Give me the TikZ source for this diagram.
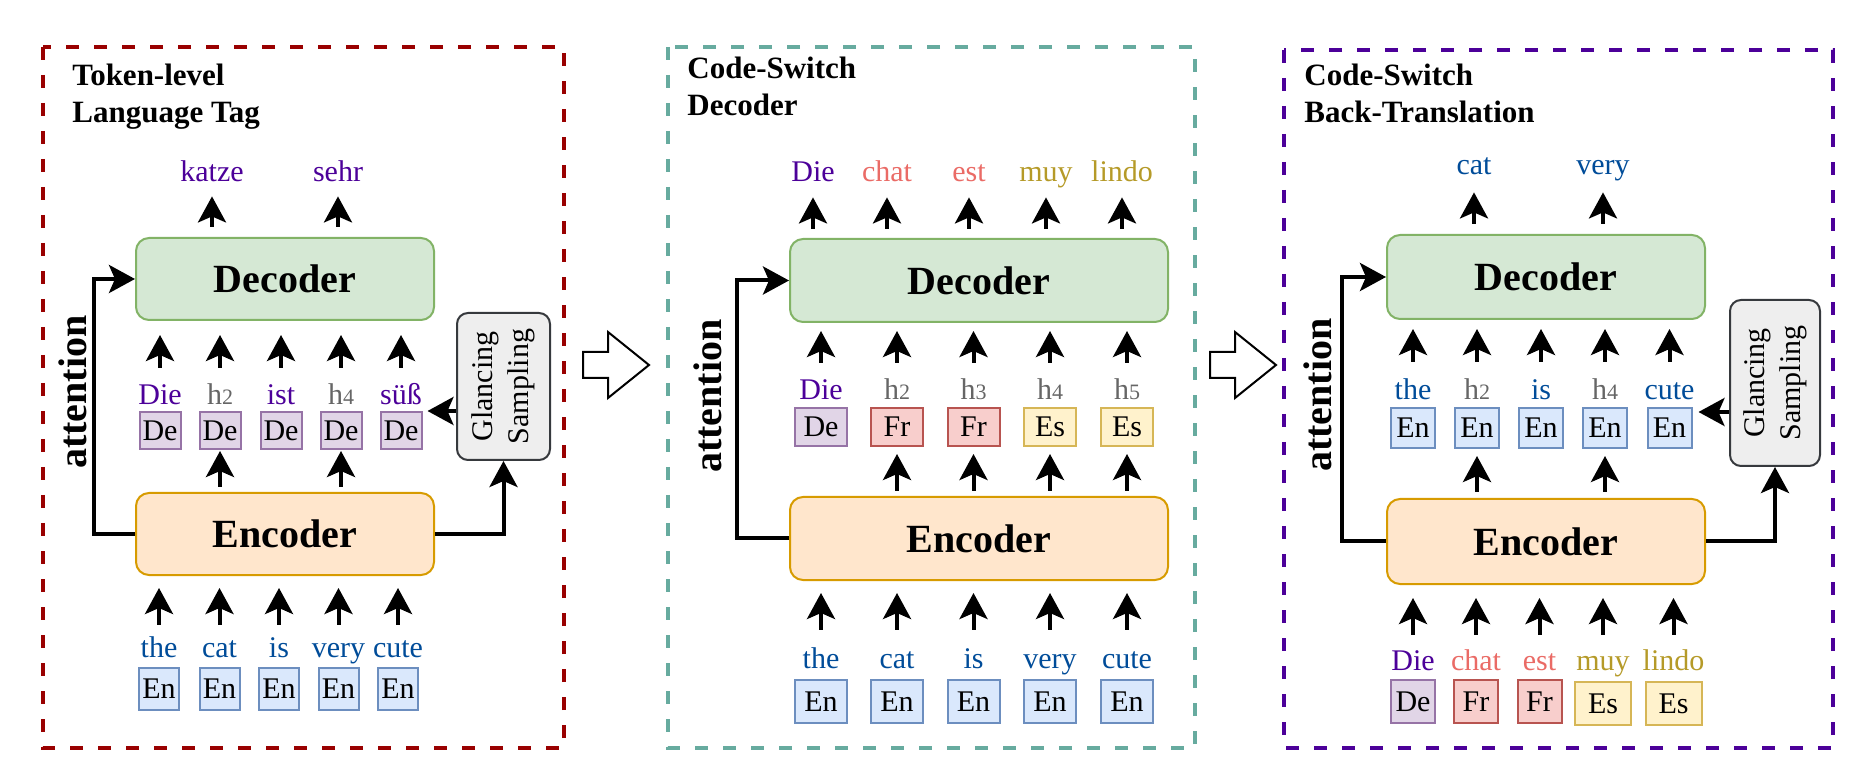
\documentclass[tikz,border=0pt]{standalone}
\usepackage{fontspec}
\setmainfont{Liberation Serif}
\usetikzlibrary{arrows.meta}

\definecolor{redframe}{HTML}{990000}
\definecolor{tealframe}{HTML}{67AB9F}
\definecolor{purpleframe}{HTML}{4C0099}
\definecolor{deword}{HTML}{4C0099}
\definecolor{enword}{HTML}{004C99}
\definecolor{frword}{HTML}{EA6B66}
\definecolor{esword}{HTML}{B59A28}
\definecolor{hword}{HTML}{666666}
\definecolor{defill}{HTML}{E1D5E7}
\definecolor{deline}{HTML}{9673A6}
\definecolor{enfill}{HTML}{DAE8FC}
\definecolor{enline}{HTML}{6C8EBF}
\definecolor{frfill}{HTML}{F8CECC}
\definecolor{frline}{HTML}{B85450}
\definecolor{esfill}{HTML}{FFF2CC}
\definecolor{esline}{HTML}{D6B656}
\definecolor{decfill}{HTML}{D5E8D4}
\definecolor{decline}{HTML}{82B366}
\definecolor{encfill}{HTML}{FFE6CC}
\definecolor{encline}{HTML}{D79B00}
\definecolor{glfill}{HTML}{EEEEEE}
\definecolor{glline}{HTML}{36393D}

\newcommand{\hsub}[1]{h{\fontsize{11}{13}\selectfont #1}}
\newcommand{\wordtag}[8]{%
  \node[word, text=#5] (w#1) at (#2,#3) {#6};
  \node[tagbox, tag#7, #8] (t#1) at (#2,#4) {#7};}

\begin{document}
\begin{tikzpicture}[x=0.5pt, y=-0.5pt,
    word/.style={anchor=base, inner sep=0pt, text height=10.5pt, text depth=3pt, font=\fontsize{15}{18}\selectfont},
    tagbox/.style={line width=1pt, inner sep=0pt, font=\fontsize{15}{18}\selectfont},
    tagDe/.style={fill=defill, draw=deline},
    tagEn/.style={fill=enfill, draw=enline},
    tagFr/.style={fill=frfill, draw=frline},
    tagEs/.style={fill=esfill, draw=esline},
    mid1/.style={minimum width=20.5pt, minimum height=18.5pt},
    low1/.style={minimum width=20pt, minimum height=21pt},
    mid2/.style={minimum width=26pt, minimum height=19pt},
    low2/.style={minimum width=26pt, minimum height=21.5pt},
    mid3/.style={minimum width=22pt, minimum height=20pt},
    low3/.style={minimum width=22pt, minimum height=21.5pt},
    low3es/.style={minimum width=28pt, minimum height=21.5pt},
    block/.style={rounded corners=6.5pt, line width=1pt, inner sep=0pt, font=\bfseries\fontsize{20}{24}\selectfont},
    dec/.style={block, fill=decfill, draw=decline},
    enc/.style={block, fill=encfill, draw=encline},
    glance/.style={rounded corners=5.5pt, line width=1pt, fill=glfill, draw=glline, inner sep=0pt, font=\fontsize{15}{18}\selectfont},
    attn/.style={rotate=90, anchor=base, inner sep=0pt, font=\bfseries\fontsize{20}{24}\selectfont},
    title/.style={anchor=north west, align=left, inner sep=0pt, font=\bfseries\fontsize{15.5}{18.5}\selectfont},
    frame/.style={line width=2pt, dash pattern=on 6.5pt off 7.5pt},
    arr/.style={line width=2pt, -{Stealth[length=13pt, width=14pt, inset=3pt]}},
    bigarrow/.style={line width=1pt, fill=white}]
    \useasboundingbox (0,0) rectangle (1864,764);

    % token-level language tag
    \draw[frame, redframe] (43,47) rectangle (564,748);
    \node[title] (title1) at (72,64) {Token-level\\Language Tag};
    \node[dec, minimum width=149pt, minimum height=41pt] (dec1) at (285,279) {Decoder};
    \node[enc, minimum width=149pt, minimum height=41pt] (enc1) at (285,534) {Encoder};
    \node[word, text=deword] (o1a) at (212,182) {katze};
    \node[word, text=deword] (o1b) at (338,182) {sehr};
    \wordtag{a1}{160}{405}{430.5}{deword}{Die}{De}{mid1}
    \wordtag{a2}{220}{405}{430.5}{hword}{\hsub{2}}{De}{mid1}
    \wordtag{a3}{281}{405}{430.5}{deword}{ist}{De}{mid1}
    \wordtag{a4}{341}{405}{430.5}{hword}{\hsub{4}}{De}{mid1}
    \wordtag{a5}{401}{405}{430.5}{deword}{süß}{De}{mid1}
    \wordtag{b1}{159}{657}{689}{enword}{the}{En}{low1}
    \wordtag{b2}{219.5}{657}{689}{enword}{cat}{En}{low1}
    \wordtag{b3}{279}{657}{689}{enword}{is}{En}{low1}
    \wordtag{b4}{338.5}{657}{689}{enword}{very}{En}{low1}
    \wordtag{b5}{398}{657}{689}{enword}{cute}{En}{low1}
    \draw[arr, shorten <=5pt, shorten >=4pt] (o1a |- dec1.north) -- (o1a.south);
    \draw[arr, shorten <=5pt, shorten >=4pt] (o1b |- dec1.north) -- (o1b.south);
    \draw[arr, shorten <=8pt, shorten >=7pt] (wa1.north) -- (wa1.north |- dec1.south);
    \draw[arr, shorten <=8pt, shorten >=7pt] (wa2.north) -- (wa2.north |- dec1.south);
    \draw[arr, shorten <=8pt, shorten >=7pt] (wa3.north) -- (wa3.north |- dec1.south);
    \draw[arr, shorten <=8pt, shorten >=7pt] (wa4.north) -- (wa4.north |- dec1.south);
    \draw[arr, shorten <=8pt, shorten >=7pt] (wa5.north) -- (wa5.north |- dec1.south);
    \draw[arr, shorten <=2.5pt, shorten >=0.5pt] (ta2.south |- enc1.north) -- (ta2.south);
    \draw[arr, shorten <=2.5pt, shorten >=0.5pt] (ta4.south |- enc1.north) -- (ta4.south);
    \draw[arr, shorten <=5.5pt, shorten >=6pt] (wb1.north) -- (wb1.north |- enc1.south);
    \draw[arr, shorten <=5.5pt, shorten >=6pt] (wb2.north) -- (wb2.north |- enc1.south);
    \draw[arr, shorten <=5.5pt, shorten >=6pt] (wb3.north) -- (wb3.north |- enc1.south);
    \draw[arr, shorten <=5.5pt, shorten >=6pt] (wb4.north) -- (wb4.north |- enc1.south);
    \draw[arr, shorten <=5.5pt, shorten >=6pt] (wb5.north) -- (wb5.north |- enc1.south);
    \draw[arr] (enc1.west) -- ++(-41,0) |- (dec1.west);
    \node[attn] (att1) at (86,392) {attention};
    \node[glance, minimum width=46.5pt, minimum height=73.5pt] (gl1) at (503.5,386.5)
        {\rotatebox{90}{\begin{tabular}{@{}c@{}}Glancing\\Sampling\end{tabular}}};
    \draw[arr] (enc1.east) -| (gl1.south);
    \draw[arr] (gl1.west |- ta5.north) -- ([xshift=2.5pt]ta5.north east);

    \draw[bigarrow] (583,352) -- (608,352) -- (608,332) -- (649,365) -- (608,398) -- (608,378) -- (583,378) -- cycle;

    % code-switch decoder
    \draw[frame, tealframe] (668,47) rectangle (1195,748);
    \node[title] (title2) at (687,57) {Code-Switch\\Decoder};
    \node[dec, minimum width=189pt, minimum height=41.5pt] (dec2) at (979,280.5) {Decoder};
    \node[enc, minimum width=189pt, minimum height=41.5pt] (enc2) at (979,538.5) {Encoder};
    \node[word, text=deword] (o2a) at (813,182) {Die};
    \node[word, text=frword] (o2b) at (887,182) {chat};
    \node[word, text=frword] (o2c) at (969,182) {est};
    \node[word, text=esword] (o2d) at (1046,182) {muy};
    \node[word, text=esword] (o2e) at (1122,182) {lindo};
    \wordtag{c1}{821}{400}{427}{deword}{Die}{De}{mid2}
    \wordtag{c2}{897}{400}{427}{hword}{\hsub{2}}{Fr}{mid2}
    \wordtag{c3}{973.5}{400}{427}{hword}{\hsub{3}}{Fr}{mid2}
    \wordtag{c4}{1050}{400}{427}{hword}{\hsub{4}}{Es}{mid2}
    \wordtag{c5}{1127}{400}{427}{hword}{\hsub{5}}{Es}{mid2}
    \wordtag{d1}{821}{668}{701.5}{enword}{the}{En}{low2}
    \wordtag{d2}{897}{668}{701.5}{enword}{cat}{En}{low2}
    \wordtag{d3}{973.5}{668}{701.5}{enword}{is}{En}{low2}
    \wordtag{d4}{1050}{668}{701.5}{enword}{very}{En}{low2}
    \wordtag{d5}{1127}{668}{701.5}{enword}{cute}{En}{low2}
    \draw[arr, shorten <=4.5pt, shorten >=4.5pt] (o2a |- dec2.north) -- (o2a.south);
    \draw[arr, shorten <=4.5pt, shorten >=4.5pt] (o2b |- dec2.north) -- (o2b.south);
    \draw[arr, shorten <=4.5pt, shorten >=4.5pt] (o2c |- dec2.north) -- (o2c.south);
    \draw[arr, shorten <=4.5pt, shorten >=4.5pt] (o2d |- dec2.north) -- (o2d.south);
    \draw[arr, shorten <=4.5pt, shorten >=4.5pt] (o2e |- dec2.north) -- (o2e.south);
    \draw[arr, shorten <=8pt, shorten >=4pt] (wc1.north) -- (wc1.north |- dec2.south);
    \draw[arr, shorten <=8pt, shorten >=4pt] (wc2.north) -- (wc2.north |- dec2.south);
    \draw[arr, shorten <=8pt, shorten >=4pt] (wc3.north) -- (wc3.north |- dec2.south);
    \draw[arr, shorten <=8pt, shorten >=4pt] (wc4.north) -- (wc4.north |- dec2.south);
    \draw[arr, shorten <=8pt, shorten >=4pt] (wc5.north) -- (wc5.north |- dec2.south);
    \draw[arr, shorten <=2.5pt, shorten >=3.5pt] (tc2.south |- enc2.north) -- (tc2.south);
    \draw[arr, shorten <=2.5pt, shorten >=3.5pt] (tc3.south |- enc2.north) -- (tc3.south);
    \draw[arr, shorten <=2.5pt, shorten >=3.5pt] (tc4.south |- enc2.north) -- (tc4.south);
    \draw[arr, shorten <=2.5pt, shorten >=3.5pt] (tc5.south |- enc2.north) -- (tc5.south);
    \draw[arr, shorten <=8.5pt, shorten >=6pt] (wd1.north) -- (wd1.north |- enc2.south);
    \draw[arr, shorten <=8.5pt, shorten >=6pt] (wd2.north) -- (wd2.north |- enc2.south);
    \draw[arr, shorten <=8.5pt, shorten >=6pt] (wd3.north) -- (wd3.north |- enc2.south);
    \draw[arr, shorten <=8.5pt, shorten >=6pt] (wd4.north) -- (wd4.north |- enc2.south);
    \draw[arr, shorten <=8.5pt, shorten >=6pt] (wd5.north) -- (wd5.north |- enc2.south);
    \draw[arr] (enc2.west) -- ++(-52,0) |- (dec2.west);
    \node[attn] (att2) at (721,396) {attention};

    \draw[bigarrow] (1210,352) -- (1235,352) -- (1235,332) -- (1276,365) -- (1235,398) -- (1235,378) -- (1210,378) -- cycle;

    % code-switch back-translation
    \draw[frame, purpleframe] (1284,50) rectangle (1833,748);
    \node[title] (title3) at (1304,64) {Code-Switch\\Back-Translation};
    \node[dec, minimum width=159pt, minimum height=42pt] (dec3) at (1546,277) {Decoder};
    \node[enc, minimum width=159pt, minimum height=42.5pt] (enc3) at (1546,541.5) {Encoder};
    \node[word, text=enword] (o3a) at (1474,175) {cat};
    \node[word, text=enword] (o3b) at (1603,175) {very};
    \wordtag{e1}{1413}{400}{428}{enword}{the}{En}{mid3}
    \wordtag{e2}{1477}{400}{428}{hword}{\hsub{2}}{En}{mid3}
    \wordtag{e3}{1541}{400}{428}{enword}{is}{En}{mid3}
    \wordtag{e4}{1605}{400}{428}{hword}{\hsub{4}}{En}{mid3}
    \wordtag{e5}{1669.5}{400}{428}{enword}{cute}{En}{mid3}
    \wordtag{f1}{1413}{670}{701.5}{deword}{Die}{De}{low3}
    \wordtag{f2}{1476}{670}{701.5}{frword}{chat}{Fr}{low3}
    \wordtag{f3}{1539.5}{670}{701.5}{frword}{est}{Fr}{low3}
    \wordtag{f4}{1603}{670}{703.5}{esword}{muy}{Es}{low3es}
    \wordtag{f5}{1673.5}{670}{703.5}{esword}{lindo}{Es}{low3es}
    \draw[arr, shorten <=5pt, shorten >=5.5pt] (o3a |- dec3.north) -- (o3a.south);
    \draw[arr, shorten <=5pt, shorten >=5.5pt] (o3b |- dec3.north) -- (o3b.south);
    \draw[arr, shorten <=8.5pt, shorten >=4.5pt] (we1.north) -- (we1.north |- dec3.south);
    \draw[arr, shorten <=8.5pt, shorten >=4.5pt] (we2.north) -- (we2.north |- dec3.south);
    \draw[arr, shorten <=8.5pt, shorten >=4.5pt] (we3.north) -- (we3.north |- dec3.south);
    \draw[arr, shorten <=8.5pt, shorten >=4.5pt] (we4.north) -- (we4.north |- dec3.south);
    \draw[arr, shorten <=8.5pt, shorten >=4.5pt] (we5.north) -- (we5.north |- dec3.south);
    \draw[arr, shorten <=3pt, shorten >=3.5pt] (te2.south |- enc3.north) -- (te2.south);
    \draw[arr, shorten <=3pt, shorten >=3.5pt] (te4.south |- enc3.north) -- (te4.south);
    \draw[arr, shorten <=7pt, shorten >=6.5pt] (wf1.north) -- (wf1.north |- enc3.south);
    \draw[arr, shorten <=7pt, shorten >=6.5pt] (wf2.north) -- (wf2.north |- enc3.south);
    \draw[arr, shorten <=7pt, shorten >=6.5pt] (wf3.north) -- (wf3.north |- enc3.south);
    \draw[arr, shorten <=7pt, shorten >=6.5pt] (wf4.north) -- (wf4.north |- enc3.south);
    \draw[arr, shorten <=7pt, shorten >=6.5pt] (wf5.north) -- (wf5.north |- enc3.south);
    \draw[arr] (enc3.west) -- ++(-44,0) |- (dec3.west);
    \node[attn] (att3) at (1331,395) {attention};
    \node[glance, minimum width=45pt, minimum height=83pt] (gl3) at (1775,383)
        {\rotatebox{90}{\begin{tabular}{@{}c@{}}Glancing\\Sampling\end{tabular}}};
    \draw[arr] (enc3.east) -| (gl3.south);
    \draw[arr] ([yshift=-2.5pt]gl3.west |- te5.north) -- ([xshift=3pt, yshift=-2.5pt]te5.north east);
\end{tikzpicture}
\end{document}
